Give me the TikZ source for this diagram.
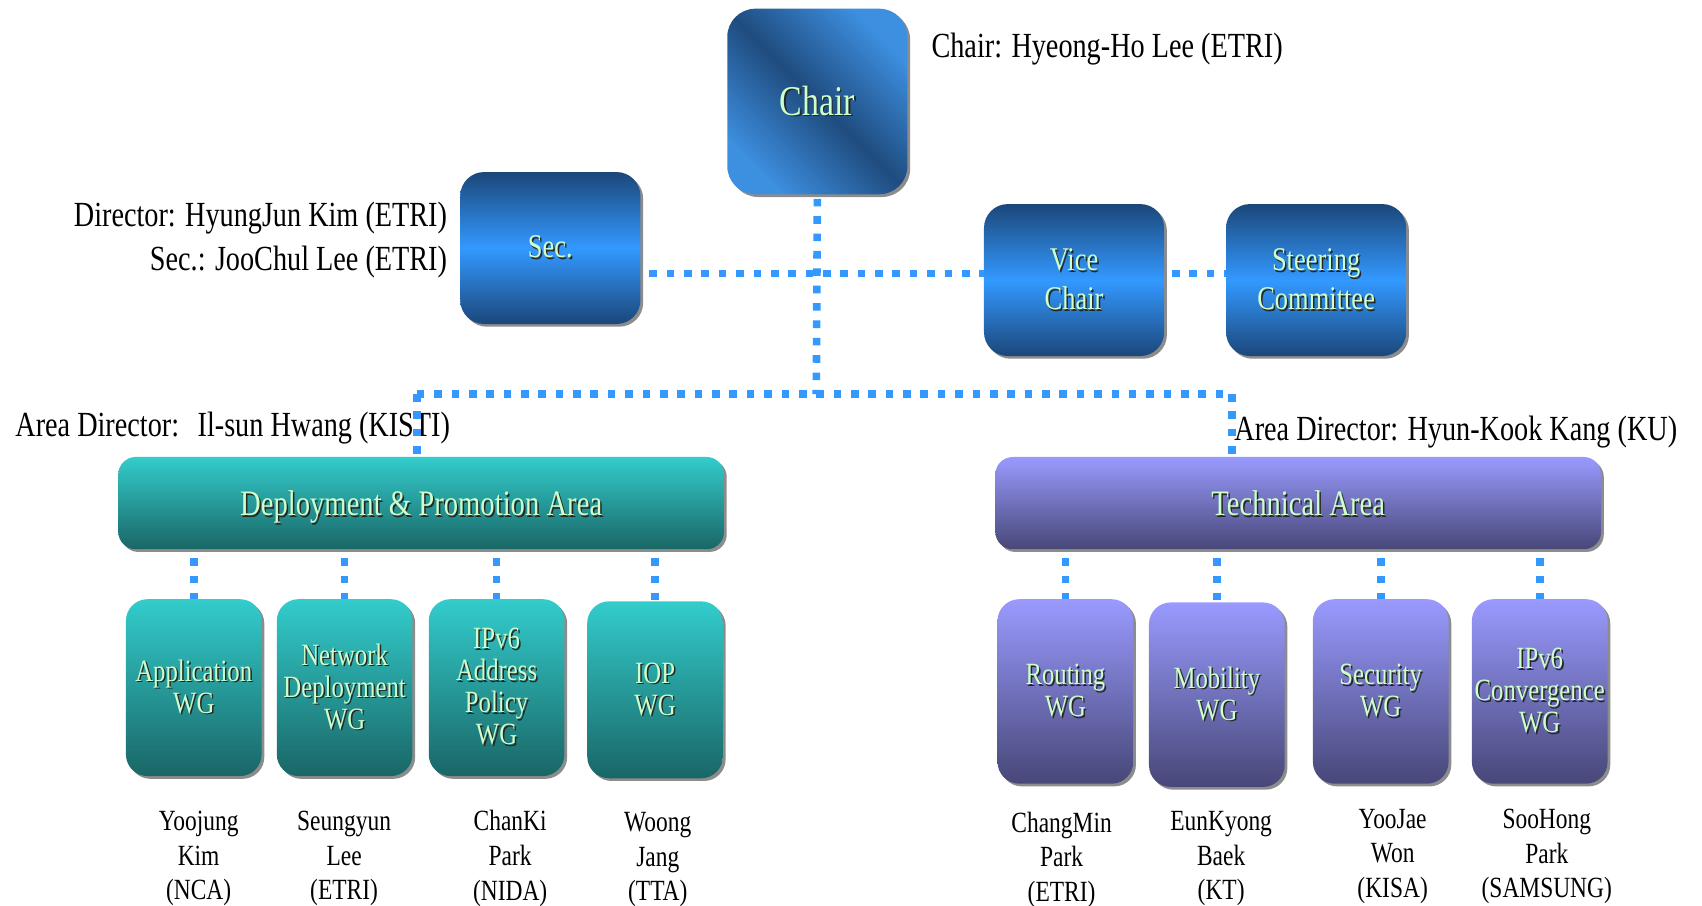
\documentclass[tikz,border=0pt]{standalone}
\usepackage{fontspec}
\setmainfont{Liberation Serif}[FakeStretch=0.8]
\usetikzlibrary{shadows}

\definecolor{dotblue}{HTML}{3399FF}
\definecolor{txtgreen}{HTML}{CCFFCC}
\definecolor{chairlight}{HTML}{3D8FE0}
\definecolor{chairdark}{HTML}{1F4C7F}
\definecolor{bluedark}{HTML}{1B477A}
\definecolor{bluebright}{HTML}{3399FF}
\definecolor{tealtop}{HTML}{33CCCC}
\definecolor{tealbot}{HTML}{1A6666}
\definecolor{purptop}{HTML}{9A9AFF}
\definecolor{purpbot}{HTML}{474778}

% light green box caption with a dark offset copy behind it
\newcommand\gl[1]{\makebox[0pt][l]{\hspace{1.4pt}\raisebox{-1.4pt}{\color{black!85}#1}}{\color{txtgreen}#1}}

\tikzset{
  box/.style={inner sep=0pt, align=center,
    drop shadow={shadow xshift=2.5pt, shadow yshift=-2.5pt, fill=black!50, opacity=0.9}},
  chairbox/.style={box, rounded corners=26pt, minimum width=166pt, minimum height=171pt,
    left color=chairlight, right color=chairlight, middle color=chairdark, shading angle=-45,
    font=\fontsize{39}{44}\selectfont},
  bluebox/.style={box, rounded corners=22pt, minimum width=166pt, minimum height=140pt,
    top color=bluedark, bottom color=bluedark, middle color=bluebright,
    font=\fontsize{30.5}{36}\selectfont},
  areabox/.style={box, rounded corners=16pt, minimum width=558pt, minimum height=85pt,
    text depth=0pt, font=\fontsize{33}{38}\selectfont},
  tealarea/.style={areabox, top color=tealtop, bottom color=tealbot},
  purparea/.style={areabox, top color=purptop, bottom color=purpbot},
  wgbox/.style={box, rounded corners=20pt, minimum width=125pt,
    font=\fontsize{28.5}{29.5}\selectfont},
  tealwg/.style={wgbox, minimum height=163pt, top color=tealtop, bottom color=tealbot},
  purpwg/.style={wgbox, minimum height=170pt, top color=purptop, bottom color=purpbot},
  lab/.style={inner sep=0pt, font=\fontsize{32.5}{40}\selectfont},
  nm/.style={inner sep=0pt, align=center, font=\fontsize{27}{32}\selectfont},
  dotline/.style={draw=dotblue, line width=7pt, dash pattern=on 7pt off 9pt}
}

\begin{document}
\begin{tikzpicture}[x=1pt, y=-1pt]
\useasboundingbox (0,0) rectangle (1568,834);

% top row
\node[chairbox] (chair) at (753,93.5) {\gl{Chair}};
\node[bluebox] (sec) at (507,228.5) {\gl{Sec.}};
\node[bluebox] (vice) at (989.5,258) {\gl{Vice}\\\gl{Chair}};
\node[bluebox] (steer) at (1212.5,258) {\gl{Steering}\\\gl{Committee}};

% areas
\node[tealarea] (depl) at (388,463.5) {\gl{Deployment \& Promotion Area}};
\node[purparea] (tech) at (1196,463.5) {\gl{Technical Area}};

% working groups
\node[tealwg] (app) at (178.5,633.5) {\gl{Application}\\\gl{WG}};
\node[tealwg] (netd) at (317.5,633.5) {\gl{Network}\\\gl{Deployment}\\\gl{WG}};
\node[tealwg] (addr) at (457.5,633.5) {\gl{IPv6}\\\gl{Address}\\\gl{Policy}\\\gl{WG}};
\node[tealwg] (iop) at (603.5,635.5) {\gl{IOP}\\\gl{WG}};
\node[purpwg] (rout) at (981.5,637) {\gl{Routing}\\\gl{WG}};
\node[purpwg] (mob) at (1121,640) {\gl{Mobility}\\\gl{WG}};
\node[purpwg] (secu) at (1272,637) {\gl{Security}\\\gl{WG}};
\node[purpwg] (conv) at (1418.5,637) {\gl{IPv6}\\\gl{Convergence}\\\gl{WG}};

% labels
\node[lab, anchor=base west] (lchair) at (858,53) {Chair: Hyeong-Ho Lee (ETRI)};
\node[lab, anchor=base east] (ldir) at (412,209) {Director: HyungJun Kim (ETRI)};
\node[lab, anchor=base east] (lsec) at (412,249) {Sec.: JooChul Lee (ETRI)};
\node[lab, anchor=base west] (ladl) at (14,402) {Area Director:\hspace{17pt}Il-sun Hwang (KISTI)};
\node[lab, anchor=base west] (ladr) at (1137,406) {Area Director: Hyun-Kook Kang (KU)};

% members
\node[nm] (m1) at (183,791) {Yoojung\\Kim\\(NCA)};
\node[nm] (m2) at (317,791) {Seungyun\\Lee\\(ETRI)};
\node[nm] (m3) at (470,791) {ChanKi\\Park\\(NIDA)};
\node[nm] (m4) at (606,792) {Woong\\Jang\\(TTA)};
\node[nm] (m5) at (978,792) {ChangMin\\Park\\(ETRI)};
\node[nm] (m6) at (1125,791) {EunKyong\\Baek\\(KT)};
\node[nm] (m7) at (1283,789) {YooJae\\Won\\(KISA)};
\node[nm] (m8) at (1425,789) {SooHong\\Park\\(SAMSUNG)};

% connectors
\coordinate (hub) at (752,252);
\coordinate (jn) at (752,363);
\coordinate (jl) at (384,363);
\coordinate (jr) at (1135,363);
\draw[dotline] ([yshift=-4pt]chair.south) -- (jn);
\draw[dotline] ([xshift=8pt]sec.east |- hub) -- (vice.west |- hub);
\draw[dotline] ([xshift=7pt]vice.east |- hub) -- (steer.west |- hub);
\draw[dotline] (jl) -- (jr);
\draw[dotline] (jl) -- (jl |- depl.north);
\draw[dotline] (jr) -- (jr |- tech.north);
\foreach \w in {app,netd,addr,iop}
  \draw[dotline] ([yshift=-8pt]depl.south -| \w.north) -- (\w.north);
\foreach \w in {rout,mob,secu,conv}
  \draw[dotline] ([yshift=-8pt]tech.south -| \w.north) -- (\w.north);
\end{tikzpicture}
\end{document}
